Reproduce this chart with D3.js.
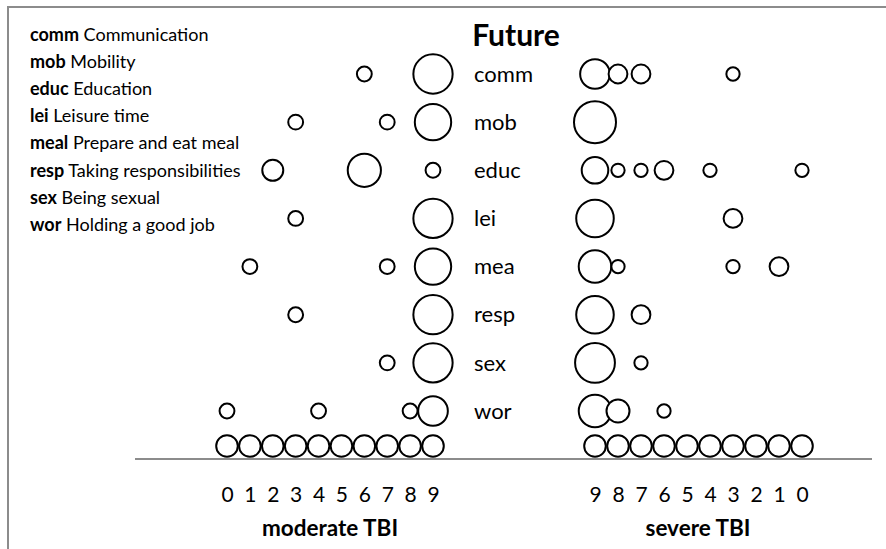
<!DOCTYPE html>
<html>
<head>
<meta charset="utf-8">
<script src="https://cdn.jsdelivr.net/npm/d3@7"></script>
<style>
body { margin: 0; background: #fff; }
svg { display: block; font-family: Lato, sans-serif; }
</style>
</head>
<body>
<svg></svg>
<script>
let categories = ['comm', 'mob', 'educ', 'lei', 'mea', 'resp', 'sex', 'wor']
let legendCodes = ['comm', 'mob', 'educ', 'lei', 'meal', 'resp', 'sex', 'wor']
let legendNames = ['Communication', 'Mobility', 'Education', 'Leisure time', 'Prepare and eat meal',
                   'Taking responsibilities', 'Being sexual', 'Holding a good job']
let scores = [0, 1, 2, 3, 4, 5, 6, 7, 8, 9]

// [category, score, number of patients]
let moderate = [
    ['comm', 6, 1], ['comm', 9, 7],
    ['mob', 3, 1], ['mob', 7, 1], ['mob', 9, 6],
    ['educ', 2, 2], ['educ', 6, 5], ['educ', 9, 1],
    ['lei', 3, 1], ['lei', 9, 7],
    ['mea', 1, 1], ['mea', 7, 1], ['mea', 9, 6],
    ['resp', 3, 1], ['resp', 9, 7],
    ['sex', 7, 1], ['sex', 9, 7],
    ['wor', 0, 1], ['wor', 4, 1], ['wor', 8, 1], ['wor', 9, 4]
]
let severe = [
    ['comm', 9, 5], ['comm', 8, 2], ['comm', 7, 2], ['comm', 3, 1],
    ['mob', 9, 10],
    ['educ', 9, 4], ['educ', 8, 1], ['educ', 7, 1], ['educ', 6, 2], ['educ', 4, 1], ['educ', 0, 1],
    ['lei', 9, 8], ['lei', 3, 2],
    ['mea', 9, 6], ['mea', 8, 1], ['mea', 3, 1], ['mea', 1, 2],
    ['resp', 9, 8], ['resp', 7, 2],
    ['sex', 9, 9], ['sex', 7, 1],
    ['wor', 9, 6], ['wor', 8, 3], ['wor', 6, 1]
]
let moderateN = 8
let severeN = 10

let width = 886
let height = 549

let svg = d3.select('svg')
    .attr('width', width)
    .attr('height', height)

let xModerate = d3.scaleLinear().domain([0, 9]).range([227, 433])
let xSevere = d3.scaleLinear().domain([9, 0]).range([595, 802])
let yScale = d3.scalePoint().domain(categories).range([74, 411])
let rScale = d3.scaleSqrt().domain([0, 1]).range([0, 21])

let baseY = 446
let lineY = 459

let drawFrame = () => {
    svg.append('path')
        .attr('d', 'M8,' + height + ' V7 H' + width)
        .attr('fill', 'none')
        .attr('stroke', '#8c8c8c')
        .attr('stroke-width', 2)
}

let drawLegend = () => {
    let rows = svg.append('g').selectAll('text')
        .data(legendCodes)
        .enter()
        .append('text')
        .attr('x', 30)
        .attr('y', (d, i) => 41 + i * 27.1)
        .attr('font-size', 18)
    rows.append('tspan').attr('font-weight', 'bold').text(d => d)
    rows.append('tspan').text((d, i) => ' ' + legendNames[i])
}

let drawBubbles = (data, n, xScale) => {
    let sorted = data.slice().sort((a, b) => b[2] - a[2])
    svg.append('g').selectAll('circle')
        .data(sorted)
        .enter()
        .append('circle')
        .attr('cx', d => xScale(d[1]))
        .attr('cy', d => yScale(d[0]))
        .attr('r', d => rScale(d[2] / n))
        .attr('fill', '#fff')
        .attr('stroke', '#000')
        .attr('stroke-width', 2)

    svg.append('g').selectAll('circle')
        .data(scores)
        .enter()
        .append('circle')
        .attr('cx', d => xScale(d))
        .attr('cy', baseY)
        .attr('r', 10.8)
        .attr('fill', '#fff')
        .attr('stroke', '#000')
        .attr('stroke-width', 2)
}

let drawAxes = () => {
    svg.append('line')
        .attr('x1', 135).attr('x2', 872)
        .attr('y1', lineY).attr('y2', lineY)
        .attr('stroke', '#8c8c8c')
        .attr('stroke-width', 2)

    let axes = [xModerate, xSevere]
    axes.forEach(scale => {
        let g = svg.append('g')
            .attr('transform', 'translate(0,' + 487 + ')')
            .call(d3.axisBottom(scale).tickValues(scores).tickSize(0).tickPadding(0).tickFormat(d3.format('d')))
        g.select('.domain').remove()
        g.selectAll('text')
            .attr('font-family', 'Lato, sans-serif')
            .attr('font-size', 21)
            .attr('fill', '#000')
    })

    svg.append('text')
        .attr('x', 330).attr('y', 536)
        .attr('text-anchor', 'middle')
        .attr('font-size', 22.5).attr('font-weight', 'bold')
        .text('moderate TBI')
    svg.append('text')
        .attr('x', 698).attr('y', 536)
        .attr('text-anchor', 'middle')
        .attr('font-size', 22.5).attr('font-weight', 'bold')
        .text('severe TBI')
}

let drawLabels = () => {
    svg.append('text')
        .attr('x', 516).attr('y', 46)
        .attr('text-anchor', 'middle')
        .attr('font-size', 30).attr('font-weight', 'bold')
        .text('Future')

    svg.append('g').selectAll('text')
        .data(categories)
        .enter()
        .append('text')
        .attr('x', 474)
        .attr('y', d => yScale(d))
        .attr('dy', '0.35em')
        .attr('font-size', 22)
        .text(d => d)
}

drawFrame()
drawLegend()
drawBubbles(moderate, moderateN, xModerate)
drawBubbles(severe, severeN, xSevere)
drawAxes()
drawLabels()
</script>
</body>
</html>
